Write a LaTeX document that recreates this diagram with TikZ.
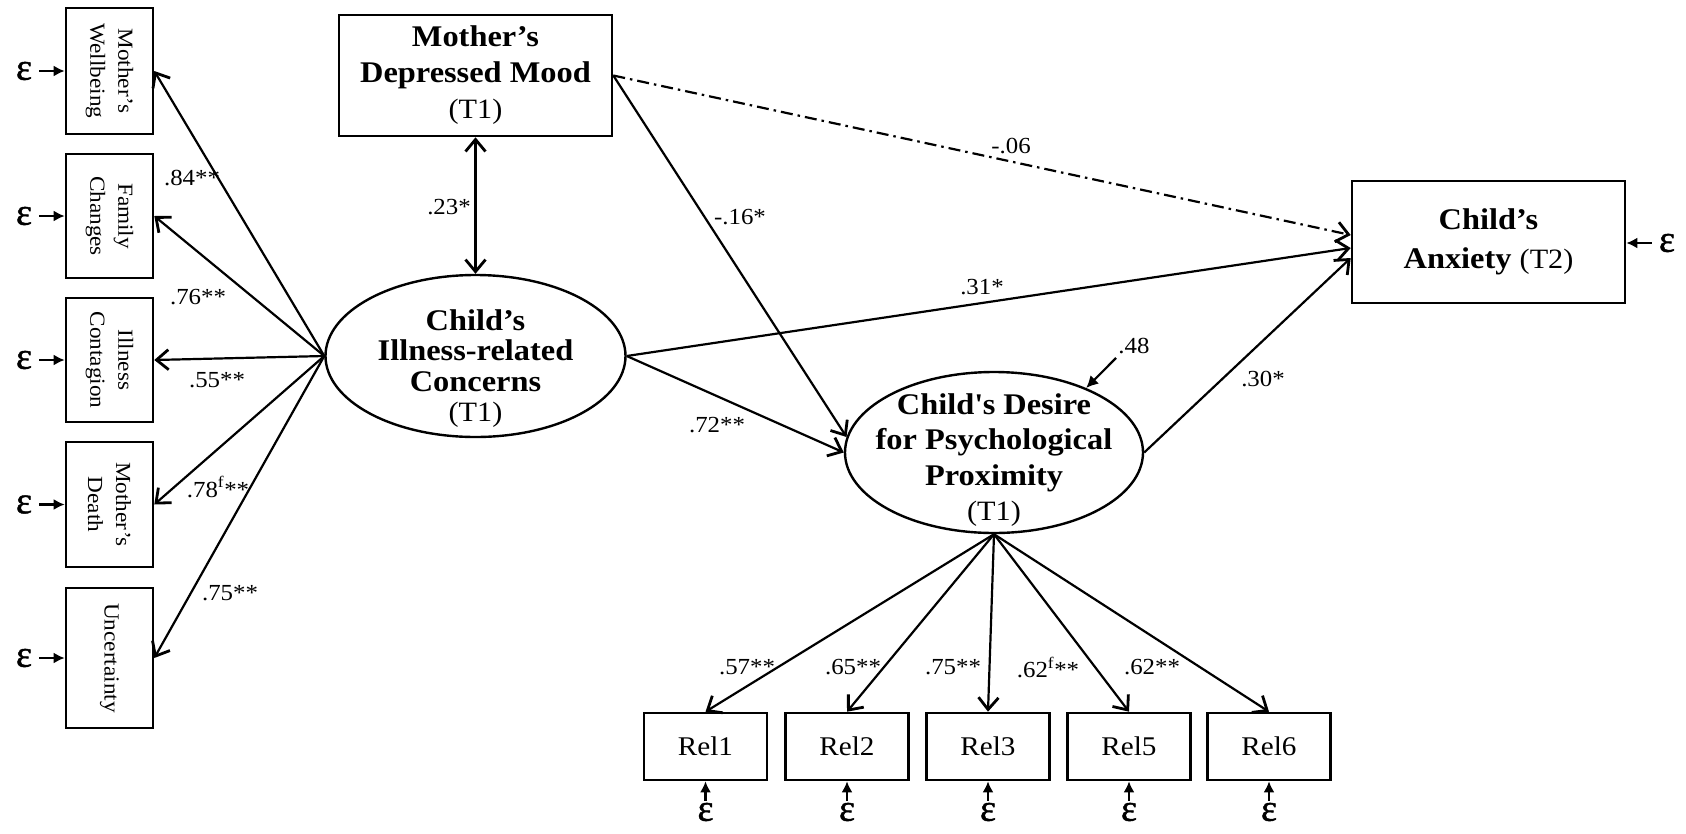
\documentclass[tikz,border=0pt]{standalone}
\usepackage{fontspec}
\setmainfont{Liberation Serif}[FakeStretch=1.08]
\newfontfamily\epsfont{Liberation Serif}[FakeBold=1.2]
\usetikzlibrary{arrows.meta,shapes.geometric}
\begin{document}
\begin{tikzpicture}[x=1pt,y=-1pt,
  conn/.style={line width=2.2pt,-{Straight Barb[length=12pt,width=20pt,line width=2.8pt]}},
  dconn/.style={line width=2.2pt,{Straight Barb[length=12pt,width=20pt,line width=2.8pt]}-{Straight Barb[length=12pt,width=20pt,line width=2.8pt]}},
  dashdot/.style={dash pattern=on 12pt off 5pt on 2.5pt off 5pt},
  epsarr/.style={line width=2.2pt,-{Latex[length=11pt,width=11pt]},shorten <=7pt},
  smallarr/.style={line width=2.2pt,-{Latex[length=12pt,width=12pt]}},
  obsbox/.style={draw,line width=2.6pt,minimum width=87pt,inner sep=0pt},
  vtext/.style={rotate=-90,align=center,font=\fontsize{21.5}{28}\selectfont,inner sep=0pt},
  eps/.style={inner sep=0pt,font=\epsfont\fontsize{38}{38}\selectfont},
  lab/.style={inner sep=0pt,font=\fontsize{23}{23}\selectfont},
  relbox/.style={draw,line width=2.6pt,minimum width=123pt,minimum height=67pt,inner sep=0pt,font=\fontsize{27}{27}\selectfont},
  bigbox/.style={draw,line width=2.6pt,minimum width=273pt,inner sep=0pt,align=center},
  latent/.style={draw,ellipse,line width=2.4pt,inner sep=0pt},
  ltext/.style={align=center,inner sep=0pt}
]
\useasboundingbox (0,0) rectangle (1686,833);

% left indicator boxes
\node[obsbox,minimum height=126pt] (mw) at (109.5,71) {};
\node[vtext] (mwt) at (mw) {Mother's\\Wellbeing};
\node[obsbox,minimum height=124pt] (fc) at (109.5,216) {};
\node[vtext] (fct) at (fc) {Family\\Changes};
\node[obsbox,minimum height=124pt] (ic) at (109.5,360) {};
\node[vtext] (ict) at (ic) {Illness\\Contagion};
\node[obsbox,minimum height=125pt] (md) at (109.5,504.5) {};
\node[vtext] (mdt) at (md) {Mother's\\Death};
\node[obsbox,minimum height=140pt] (unc) at (109.5,658) {};
\node[vtext] (unct) at (unc) {Uncertainty};

% left epsilons
\node[eps] (e1) at (24,71) {ε};
\node[eps] (e2) at (24,216) {ε};
\node[eps] (e3) at (24,360) {ε};
\node[eps] (e4) at (24,504.5) {ε};
\node[eps] (e5) at (24,658) {ε};
\foreach \e/\b in {e1/mw,e2/fc,e3/ic,e4/md,e5/unc}
  \draw[epsarr] (\e.east) -- (\b.west);

% mother's depressed mood
\node[bigbox,minimum height=121pt,font=\fontsize{30}{36}\selectfont\bfseries] (mom) at (475.5,75.5)
  {Mother's\\Depressed Mood\\{\mdseries\fontsize{28}{36}\selectfont (T1)}};

% child's anxiety
\node[bigbox,minimum height=122pt,font=\fontsize{30}{39}\selectfont\bfseries] (anx) at (1488.5,242)
  {Child's\\Anxiety {\mdseries\fontsize{28}{39}\selectfont(T2)}};
\node[eps] (eA) at (1667,243) {ε};
\draw[epsarr] (eA.west) -- (eA.west -| anx.east);

% latent: illness-related concerns
\node[latent,minimum width=300pt,minimum height=162pt] (conc) at (475.5,356) {};
\node[ltext,font=\fontsize{30}{30.5}\selectfont\bfseries] (conct) at (475.5,368.5)
  {Child's\\Illness-related\\Concerns\\{\mdseries\fontsize{28}{30.5}\selectfont(T1)}};

% latent: desire for psychological proximity
\node[latent,minimum width=298pt,minimum height=161pt] (des) at (994,452.5) {};
\node[ltext,font=\fontsize{30}{35.5}\selectfont\bfseries] (dest) at (994,460)
  {Child\textquotesingle s Desire\\for Psychological\\Proximity\\{\mdseries\fontsize{28}{35.5}\selectfont(T1)}};

% rel boxes
\node[relbox] (r1) at (705.5,746.5) {Rel1};
\node[relbox] (r2) at (847,746.5) {Rel2};
\node[relbox] (r3) at (988,746.5) {Rel3};
\node[relbox] (r5) at (1129,746.5) {Rel5};
\node[relbox] (r6) at (1269,746.5) {Rel6};
\foreach \r in {r1,r2,r3,r5,r6}{
  \node[eps] (eps\r) at (\r|-0,812) {ε};
  \draw[epsarr,shorten <=2pt] (eps\r.north) -- (\r.south);
}

% loadings of concerns
\foreach \b in {mw,fc,ic,md,unc}
  \draw[conn] (conc.west) -- (\b.east);
\node[lab] (l84) at (192,178) {.84**};
\node[lab] (l76) at (198,297) {.76**};
\node[lab] (l55) at (217,380) {.55**};
\node[lab] (l78) at (218,487) {.78\textsuperscript{f}**};
\node[lab] (l75) at (230,593) {.75**};

% covariance
\draw[dconn] (mom.south) -- (conc.north);
\node[lab] (l23) at (449,207) {.23*};

% structural paths
\draw[conn,dashdot] (mom.east) -- ([yshift=7pt]anx.west);
\node[lab] (l06) at (1011,146) {-.06};
\draw[conn] (mom.east) -- (des.174);
\node[lab] (l16) at (740,217) {-.16*};
\draw[conn] (conc.east) -- ([yshift=-6pt]anx.west);
\node[lab] (l31) at (982,287) {.31*};
\draw[conn] (conc.east) -- (des.west);
\node[lab] (l72) at (717,425) {.72**};
\draw[conn] (des.east) -- ([yshift=-16pt]anx.west);
\node[lab] (l30) at (1263,379) {.30*};

% disturbance
\coordinate (c48) at (1116,358);
\draw[smallarr] (c48) -- (des.35);
\node[lab] (l48) at (1134,346) {.48};

% loadings of desire
\foreach \r in {r1,r2,r3,r5,r6}
  \draw[conn] (des.south) -- (\r.north);
\node[lab] (l57) at (747,667) {.57**};
\node[lab] (l65) at (853,667) {.65**};
\node[lab] (l75b) at (953,667) {.75**};
\node[lab] (l62f) at (1048,667) {.62\textsuperscript{f}**};
\node[lab] (l62) at (1152,667) {.62**};
\end{tikzpicture}
\end{document}
